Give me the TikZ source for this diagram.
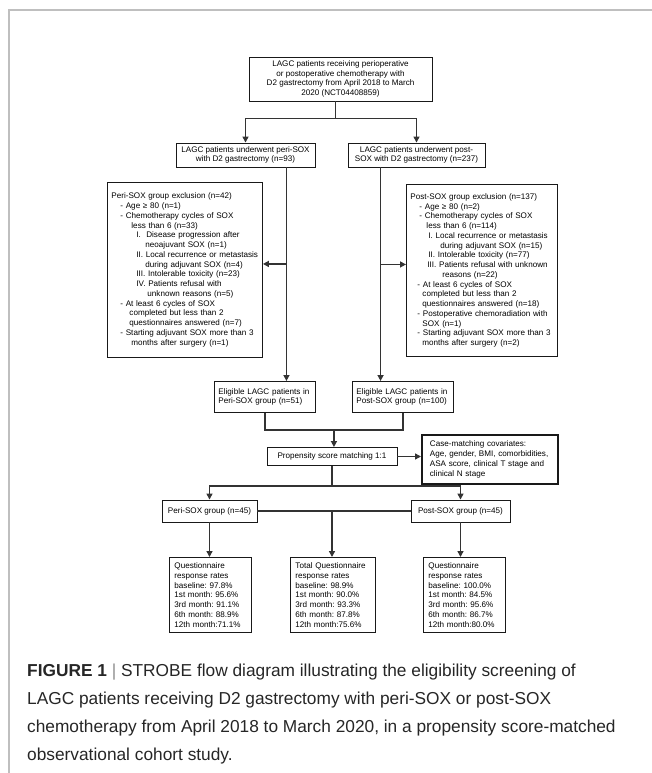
\documentclass[tikz,border=0pt]{standalone}
\usepackage{fontspec}
\setmainfont{Liberation Sans}
\usepackage{tikz}
\usetikzlibrary{positioning, calc, arrows.meta}

\begin{document}
\begin{tikzpicture}[x=1pt, y=-1pt,
    box/.style={draw=black!90, line width=0.9pt, inner xsep=4pt, inner ysep=2pt,
        font=\fontsize{8.1}{9.75}\selectfont\frenchspacing, align=center},
    listbox/.style={box, align=left, anchor=north west},
    link/.style={draw=black!80, line width=1.4pt},
    arr/.style={link, -{Triangle[length=6pt, width=6pt]}},
    frame/.style={draw=black!25, line width=1.5pt},
    caption/.style={anchor=north west, align=left, inner sep=0pt, text=black!85,
        font=\fontsize{17.3}{28}\selectfont\frenchspacing},
]
    % --- Page and frame ---
    \useasboundingbox (0,0) rectangle (652,773);
    \draw[frame] (9,773) -- (9,10) -- (652,10);

    % --- Study population and the two arms ---
    \node[box, minimum width=183pt, minimum height=44pt] (all) at (340.5,79)
        {LAGC patients receiving perioperative\\or postoperative chemotherapy with\\D2 gastrectomy from April 2018 to March\\2020 (NCT04408859)};
    \node[box, minimum width=139pt, minimum height=24pt] (peri) at (245.5,155)
        {LAGC patients underwent peri-SOX\\with D2 gastrectomy (n=93)};
    \node[box, minimum width=137pt, minimum height=24pt] (post) at (416.5,155)
        {LAGC patients underwent post-\\SOX with D2 gastrectomy (n=237)};

    % --- Exclusions ---
    \node[listbox, text width=147pt, minimum height=175pt] (exclL) at (107,182)
        {Peri-SOX group exclusion (n=42)\\
         \hspace*{9pt}- Age ≥ 80 (n=1)\\
         \hspace*{9pt}- Chemotherapy cycles of SOX\\
         \hspace*{20pt}less than 6 (n=33)\\
         \hspace*{25pt}I.\ \ Disease progression after\\
         \hspace*{34pt}neoajuvant SOX (n=1)\\
         \hspace*{25pt}II. Local recurrence or metastasis\\
         \hspace*{34pt}during adjuvant SOX (n=4)\\
         \hspace*{25pt}III. Intolerable toxicity (n=23)\\
         \hspace*{25pt}IV. Patients refusal with\\
         \hspace*{36pt}unknown reasons (n=5)\\
         \hspace*{9pt}- At least 6 cycles of SOX\\
         \hspace*{18pt}completed but less than 2\\
         \hspace*{18pt}questionnaires answered (n=7)\\
         \hspace*{9pt}- Starting adjuvant SOX more than 3\\
         \hspace*{20pt}months after surgery (n=1)};
    \node[listbox, text width=143pt, minimum height=172pt] (exclR) at (406,184)
        {Post-SOX group exclusion (n=137)\\
         \hspace*{9pt}- Age ≥ 80 (n=2)\\
         \hspace*{9pt}- Chemotherapy cycles of SOX\\
         \hspace*{16pt}less than 6 (n=114)\\
         \hspace*{18pt}I. Local recurrence or metastasis\\
         \hspace*{30pt}during adjuvant SOX (n=15)\\
         \hspace*{18pt}II. Intolerable toxicity (n=77)\\
         \hspace*{17pt}III. Patients refusal with unknown\\
         \hspace*{32pt}reasons (n=22)\\
         \hspace*{7pt}- At least 6 cycles of SOX\\
         \hspace*{12pt}completed but less than 2\\
         \hspace*{12pt}questionnaires answered (n=18)\\
         \hspace*{7pt}- Postoperative chemoradiation with\\
         \hspace*{12pt}SOX (n=1)\\
         \hspace*{7pt}- Starting adjuvant SOX more than 3\\
         \hspace*{12pt}months after surgery (n=2)};

    % --- Eligible patients and matching ---
    \node[listbox, text width=93pt, minimum height=31pt] (eligL) at (214,381)
        {Eligible LAGC patients in\\Peri-SOX group (n=51)};
    \node[listbox, text width=93pt, minimum height=31pt] (eligR) at (352,381)
        {Eligible LAGC patients in\\Post-SOX group (n=100)};
    \node[box, minimum width=130pt, minimum height=18pt, inner ysep=1pt] (prop) at (332,456.5)
        {Propensity score matching 1:1};
    \node[listbox, line width=1.8pt, text width=120pt, inner xsep=8pt, minimum height=49pt] (cov) at (421,434)
        {Case-matching covariates:\\Age, gender, BMI, comorbidities,\\ASA score, clinical T stage and\\clinical N stage};

    % --- Matched groups ---
    \node[box, minimum width=95pt, minimum height=22pt] (periG) at (209.5,511) {Peri-SOX group (n=45)};
    \node[box, minimum width=99pt, minimum height=22pt] (postG) at (460.5,511) {Post-SOX group (n=45)};

    % --- Response rates ---
    \node[listbox, text width=72pt, inner xsep=5pt, minimum height=75pt] (qL) at (169,557)
        {Questionnaire\\response rates\\baseline: 97.8\%\\1st month: 95.6\%\\3rd month: 91.1\%\\6th month: 88.9\%\\12th month:71.1\%};
    \node[listbox, text width=75pt, inner xsep=5pt, minimum height=75pt] (qT) at (290,557)
        {Total Questionnaire\\response rates\\baseline: 98.9\%\\1st month: 90.0\%\\3rd month: 93.3\%\\6th month: 87.8\%\\12th month:75.6\%};
    \node[listbox, text width=72pt, inner xsep=5pt, minimum height=75pt] (qR) at (423,557)
        {Questionnaire\\response rates\\baseline: 100.0\%\\1st month: 84.5\%\\3rd month: 95.6\%\\6th month: 86.7\%\\12th month:80.0\%};

    % --- Connectors ---
    \coordinate (fork) at ($(all.south)+(-5,17)$);
    \draw[link] (fork |- all.south) -- (fork);
    \draw[arr] (fork) -| (peri.north);
    \draw[arr] (fork) -| (post.north);

    \coordinate (periout) at ($(peri.south east)+(-29,0)$);
    \coordinate (postout) at ($(post.south west)+(33,0)$);
    \coordinate (exclLin) at ($(exclL.east)+(0,-6)$);
    \coordinate (exclRin) at ($(exclR.west)+(0,-6)$);
    \draw[arr] (periout) -- (periout |- eligL.north);
    \draw[arr] (postout) -- (postout |- eligR.north);
    \draw[arr] (periout |- exclLin) -- (exclLin);
    \draw[arr] (postout |- exclRin) -- (exclRin);

    \coordinate (merge) at ($(eligL.south)!0.5!(eligR.south)+(0,17)$);
    \draw[link] (eligL.south) |- (merge) -| (eligR.south);
    \draw[arr] (merge) -- (merge |- prop.north);
    \draw[arr] (prop.east) -- (prop.east -| cov.west);

    \coordinate (fork2) at ($(prop.south)+(0,20)$);
    \draw[link] (prop.south) -- (fork2);
    \draw[arr] (fork2) -| (periG.north);
    \draw[arr] (fork2) -| (postG.north);
    \draw[link] (periG.east) -- (postG.west);
    \draw[arr] (fork2 |- periG.east) -- (fork2 |- qT.north);
    \draw[arr] (periG.south) -- (periG.south |- qL.north);
    \draw[arr] (postG.south) -- (postG.south |- qR.north);

    % --- Caption ---
    \node[caption] (cap) at (27,664)
        {\textbf{FIGURE 1} {\color{black!45}|} STROBE flow diagram illustrating the eligibility screening of\\
         LAGC patients receiving D2 gastrectomy with peri-SOX or post-SOX\\
         chemotherapy from April 2018 to March 2020, in a propensity score-matched\\
         observational cohort study.};
\end{tikzpicture}
\end{document}
